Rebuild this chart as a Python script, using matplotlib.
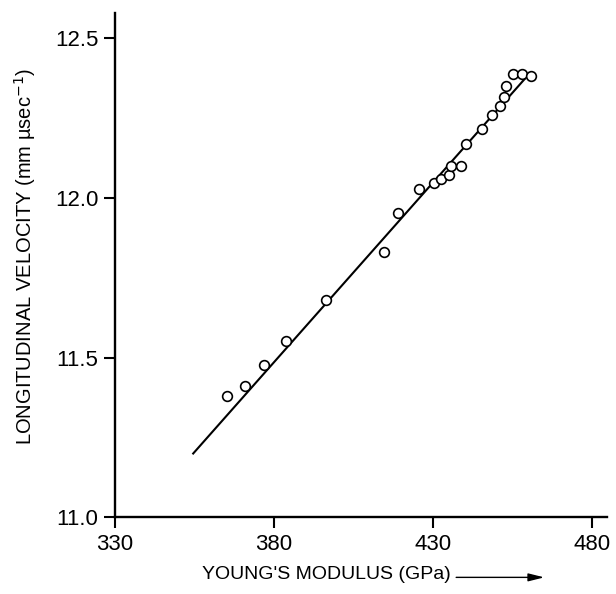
"""
Longitudinal velocity against Young's modulus, with the fitted line.
"""

import matplotlib
matplotlib.use("Agg")
import matplotlib.pyplot as plt

# ==============================================================================
#                               Data
# ==============================================================================

modulus = [365.1, 370.9, 376.9, 383.7, 396.3, 414.5, 418.9, 425.7, 430.4,
           432.7, 435.1, 435.7, 438.8, 440.4, 445.6, 448.5, 451.2, 452.5,
           453.1, 455.2, 458.0, 460.8]
velocity = [11.381, 11.411, 11.476, 11.553, 11.680, 11.830, 11.951, 12.027,
            12.045, 12.058, 12.072, 12.099, 12.100, 12.167, 12.213, 12.258,
            12.286, 12.315, 12.350, 12.386, 12.386, 12.379]

# fitted straight line, its two ends
fit_x = [354.6, 459.0]
fit_y = [11.20, 12.372]

x_ticks = [330, 380, 430, 480]
y_ticks = [11.0, 11.5, 12.0, 12.5]

# ==============================================================================
#                               Plot
# ==============================================================================

plt.rcParams['font.family'] = ['Liberation Sans', 'DejaVu Sans']

fig = plt.figure(figsize=(6.16, 5.94), dpi=100)
ax = fig.add_axes([0.1867, 0.1288, 0.7987, 0.8498])

ax.plot(fit_x, fit_y, color='black', lw=1.5, zorder=2)
ax.plot(modulus, velocity, linestyle='none', marker='o', ms=7.0,
        mfc='white', mec='black', mew=1.2, zorder=3)

ax.set_xlim(330, 484.8)
ax.set_ylim(11.0, 12.578)
ax.set_xticks(x_ticks)
ax.set_yticks(y_ticks)
ax.set_yticklabels(['%.1f' % v for v in y_ticks])

for side in ['top', 'right']:
    ax.spines[side].set_visible(False)
for side in ['left', 'bottom']:
    ax.spines[side].set_linewidth(1.7)

ax.tick_params(direction='out', length=8, width=1.5, labelsize=16, pad=4)

ax.set_ylabel('LONGITUDINAL VELOCITY (mm \u00b5sec$^{-1}$)', fontsize=14.5)
ax.yaxis.set_label_coords(-0.157, 0.518)

fig.text(0.328, 0.025, "YOUNG'S MODULUS (GPa)", fontsize=14,
         ha='left', va='baseline')
ax.annotate('', xy=(0.888, 0.028), xytext=(0.736, 0.028),
            xycoords='figure fraction', textcoords='figure fraction',
            arrowprops=dict(arrowstyle='-|>,head_length=0.8,head_width=0.2',
                            color='black', lw=1.0, mutation_scale=12))

fig.savefig('out.png', dpi=100)
